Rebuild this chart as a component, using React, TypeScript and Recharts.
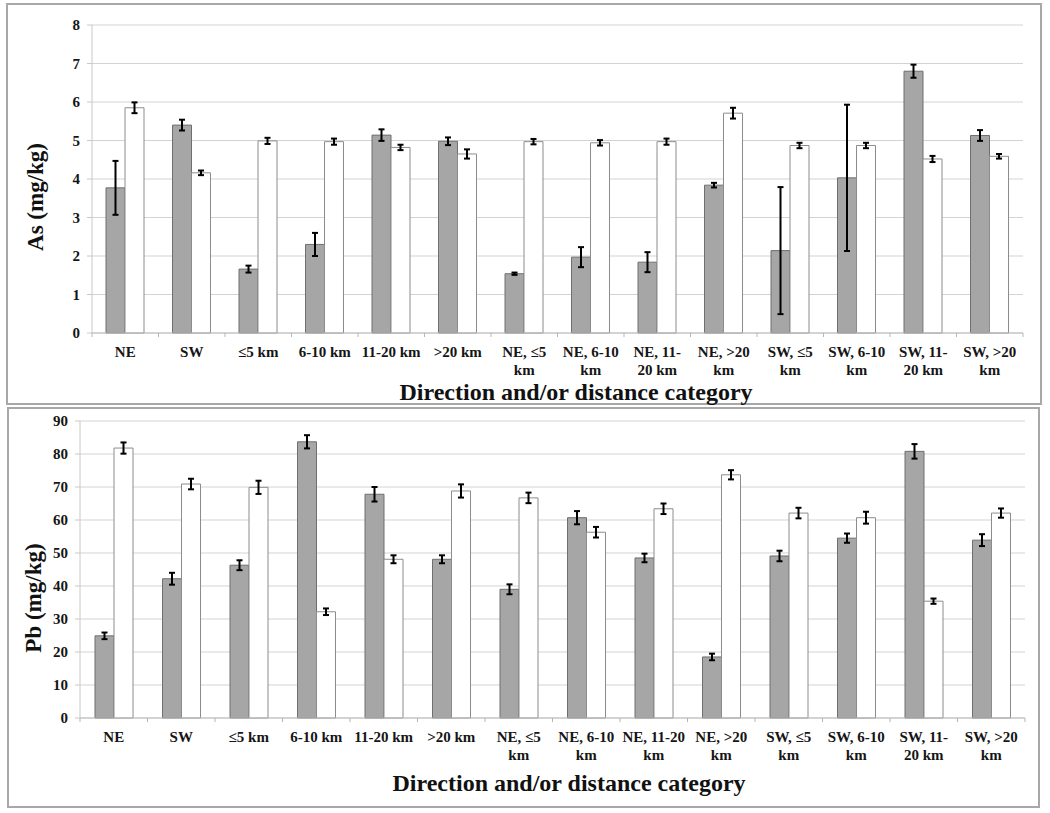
import { BarChart, Bar, XAxis, YAxis, CartesianGrid, ErrorBar } from "recharts";

const categories = [
  "NE", "SW", "≤5 km", "6-10 km", "11-20 km", ">20 km",
  "NE, ≤5 km", "NE, 6-10 km", "NE, 11-20 km", "NE, >20 km",
  "SW, ≤5 km", "SW, 6-10 km", "SW, 11-20 km", "SW, >20 km",
];

// tick labels, as wrapped in each panel
const asLabels = [
  ["NE"], ["SW"], ["≤5 km"], ["6-10 km"], ["11-20 km"], [">20 km"],
  ["NE, ≤5", "km"], ["NE, 6-10", "km"], ["NE, 11-", "20 km"], ["NE, >20", "km"],
  ["SW, ≤5", "km"], ["SW, 6-10", "km"], ["SW, 11-", "20 km"], ["SW, >20", "km"],
];
const pbLabels = [
  ["NE"], ["SW"], ["≤5 km"], ["6-10 km"], ["11-20 km"], [">20 km"],
  ["NE, ≤5", "km"], ["NE, 6-10", "km"], ["NE, 11-20", "km"], ["NE, >20", "km"],
  ["SW, ≤5", "km"], ["SW, 6-10", "km"], ["SW, 11-", "20 km"], ["SW, >20", "km"],
];

const asGrey = [3.77, 5.4, 1.66, 2.3, 5.14, 4.98, 1.54, 1.97, 1.84, 3.84, 2.14, 4.03, 6.8, 5.13];
const asGreyErr = [0.7, 0.14, 0.09, 0.3, 0.15, 0.1, 0.03, 0.26, 0.26, 0.06, 1.65, 1.9, 0.17, 0.14];
const asWhite = [5.85, 4.16, 4.99, 4.97, 4.82, 4.65, 4.97, 4.94, 4.97, 5.71, 4.87, 4.87, 4.52, 4.59];
const asWhiteErr = [0.14, 0.06, 0.08, 0.08, 0.07, 0.12, 0.07, 0.07, 0.08, 0.14, 0.07, 0.07, 0.08, 0.06];

const pbGrey = [24.9, 42.2, 46.3, 83.7, 67.8, 48.1, 39.0, 60.7, 48.5, 18.5, 49.1, 54.5, 80.8, 53.9];
const pbGreyErr = [1.0, 1.8, 1.5, 2.0, 2.2, 1.2, 1.5, 2.0, 1.3, 1.0, 1.6, 1.4, 2.2, 1.8];
const pbWhite = [81.8, 70.9, 69.9, 32.2, 48.1, 68.8, 66.7, 56.3, 63.4, 73.7, 62.1, 60.7, 35.4, 62.1];
const pbWhiteErr = [1.7, 1.6, 2.0, 1.0, 1.2, 2.0, 1.6, 1.6, 1.6, 1.4, 1.6, 1.8, 0.8, 1.4];

const asTicks = [0, 1, 2, 3, 4, 5, 6, 7, 8];
const pbTicks = [0, 10, 20, 30, 40, 50, 60, 70, 80, 90];

const FONT = '"Liberation Serif", "Times New Roman", serif';

const asData = categories.map((c, i) => ({
  cat: c, grey: asGrey[i], greyErr: asGreyErr[i], white: asWhite[i], whiteErr: asWhiteErr[i],
}));
const pbData = categories.map((c, i) => ({
  cat: c, grey: pbGrey[i], greyErr: pbGreyErr[i], white: pbWhite[i], whiteErr: pbWhiteErr[i],
}));

function CatTick(props: any) {
  const { x, y, index, labels, band, firstDy } = props;
  const lines: string[] = labels[index] || [];
  return (
    <g>
      <line x1={x + band / 2} x2={x + band / 2} y1={y} y2={y + 4} stroke="#b5b5b5" />
      {index === 0 && <line x1={x - band / 2} x2={x - band / 2} y1={y} y2={y + 4} stroke="#b5b5b5" />}
      <text x={x} y={y} textAnchor="middle" fontFamily={FONT} fontWeight={700} fontSize={15} fill="#151515">
        {lines.map((l, i) => (
          <tspan key={i} x={x} dy={i === 0 ? firstDy : 18}>{l}</tspan>
        ))}
      </text>
    </g>
  );
}

type PanelProps = {
  data: any[];
  labels: string[][];
  ticks: number[];
  max: number;
  yTitle: string;
  margin: { top: number; right: number; left: number; bottom: number };
  xAxisHeight: number;
  yTitlePos: [number, number];
  xTitlePos: [number, number];
  firstDy: number;
};

const W = 1050;
const H = 405;
const Y_W = 60;

function Panel(p: PanelProps) {
  const plotW = W - p.margin.left - p.margin.right - Y_W;
  const band = plotW / categories.length;
  return (
    <BarChart width={W} height={H} data={p.data} margin={p.margin} barGap={0} barSize={19}>
      <CartesianGrid vertical={false} stroke="#d3d3d3" />
      <XAxis
        dataKey="cat"
        height={p.xAxisHeight}
        interval={0}
        tickLine={false}
        tickSize={0}
        tickMargin={0}
        stroke="#bdbdbd"
        tick={<CatTick labels={p.labels} band={band} firstDy={p.firstDy} />}
        label={() => (
          <text x={p.xTitlePos[0]} y={p.xTitlePos[1]} textAnchor="middle" fontFamily={FONT}
            fontWeight={700} fontSize={24} fill="#111">
            Direction and/or distance category
          </text>
        )}
      />
      <YAxis
        width={Y_W}
        domain={[0, p.max]}
        ticks={p.ticks}
        interval={0}
        tickSize={5}
        tickMargin={7}
        stroke="#c8c8c8"
        tick={{ fontFamily: FONT, fontWeight: 700, fontSize: 15, fill: "#151515" }}
        label={() => (
          <text x={p.yTitlePos[0]} y={p.yTitlePos[1]} textAnchor="middle" dominantBaseline="central"
            transform={`rotate(-90, ${p.yTitlePos[0]}, ${p.yTitlePos[1]})`}
            fontFamily={FONT} fontWeight={700} fontSize={23} fill="#111">
            {p.yTitle}
          </text>
        )}
      />
      <Bar dataKey="grey" fill="#a6a6a6" stroke="#6f6f6f" strokeWidth={1} isAnimationActive={false}>
        <ErrorBar dataKey="greyErr" width={3} stroke="#000" strokeWidth={2} direction="y" />
      </Bar>
      <Bar dataKey="white" fill="#ffffff" stroke="#8c8c8c" strokeWidth={1} isAnimationActive={false}>
        <ErrorBar dataKey="whiteErr" width={3} stroke="#000" strokeWidth={2} direction="y" />
      </Bar>
    </BarChart>
  );
}

export default function App() {
  return (
    <div style={{ position: "absolute", left: 0, top: 0, width: 1050, height: 813, background: "#fff" }}>
      <div style={{ position: "absolute", left: 6, top: 3, width: 1036, height: 402, boxSizing: "border-box", border: "2px solid #a8a8a8" }} />
      <div style={{ position: "absolute", left: 7, top: 407, width: 1033, height: 401, boxSizing: "border-box", border: "2px solid #a8a8a8" }} />
      <div style={{ position: "absolute", left: 0, top: 0 }}>
        <Panel
          data={asData}
          labels={asLabels}
          ticks={asTicks}
          max={8}
          yTitle="As (mg/kg)"
          margin={{ top: 25, right: 27, left: 32, bottom: 0 }}
          xAxisHeight={72}
          yTitlePos={[35, 197]}
          xTitlePos={[576, 400]}
          firstDy={24}
        />
      </div>
      <div style={{ position: "absolute", left: 0, top: 405 }}>
        <Panel
          data={pbData}
          labels={pbLabels}
          ticks={pbTicks}
          max={90}
          yTitle="Pb (mg/kg)"
          margin={{ top: 16, right: 25, left: 20, bottom: 0 }}
          xAxisHeight={92}
          yTitlePos={[33, 193]}
          xTitlePos={[569, 386]}
          firstDy={24}
        />
      </div>
    </div>
  );
}
